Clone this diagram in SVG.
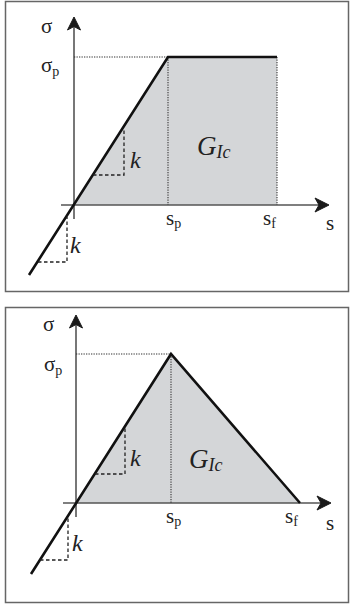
<svg xmlns="http://www.w3.org/2000/svg" width="352" height="608" viewBox="0 0 352 608">
<style>
.frame{fill:#fff;stroke:#666;stroke-width:1.5}
.area{fill:#d4d6d8;stroke:none}
.axis{stroke:#555;stroke-width:1.6;fill:none}
.head{fill:#1a1a1a;stroke:#1a1a1a;stroke-width:1;stroke-linejoin:miter}
.curve{stroke:#111;stroke-width:2.6;fill:none;stroke-linejoin:miter}
.dot{stroke:#333;stroke-width:1.1;stroke-dasharray:1.3 1.2;fill:none}
.dash{stroke:#222;stroke-width:1.3;stroke-dasharray:3.5 2.5;fill:none}
.lbl{font-family:"Liberation Serif",serif;font-size:21px;fill:#222}
.sub{font-size:14px}
.ital{font-family:"Liberation Serif",serif;font-style:italic;fill:#222}
</style>
<rect class="frame" x="5.5" y="1.5" width="343" height="290"/>
<rect class="frame" x="5.5" y="307.5" width="343" height="295"/>

<g id="panel1">
<polygon class="area" points="74,205 168,57 277,57 277,205"/>
<g id="connectors1">
<line class="axis" x1="61" y1="205" x2="322" y2="205"/>
<path class="head" d="M329,205 L315,198 L319,205 L315,212 Z"/>
<line class="axis" x1="74" y1="219" x2="74" y2="24"/>
<path class="head" d="M74,17 L67.5,30 L74,26.5 L80.5,30 Z"/>
<line class="dot" x1="74" y1="57" x2="168" y2="57"/>
<line class="dot" x1="168" y1="57" x2="168" y2="205"/>
<line class="dot" x1="277" y1="57" x2="277" y2="205"/>
<polyline class="curve" points="29,275 168,57 277,57"/>
<polyline class="dash" points="93,175 124,175 124,128"/>
<polyline class="dash" points="38,262 67,262 67,217"/>
</g>
<text class="lbl" x="41" y="33">σ</text>
<text class="lbl" x="41" y="72">σ<tspan class="sub" dy="4">p</tspan></text>
<text class="ital" x="130" y="168" font-size="24">k</text>
<text class="ital" x="70" y="253" font-size="24">k</text>
<text class="lbl" x="166" y="225">s<tspan class="sub" dy="3">p</tspan></text>
<text class="lbl" x="263" y="225">s<tspan class="sub" dy="3">f</tspan></text>
<text class="lbl" x="326" y="230">s</text>
<text class="ital" x="197" y="155" font-size="27">G<tspan font-size="18" dy="3">Ic</tspan></text>
</g>

<g id="panel2">
<polygon class="area" points="76,503 171,354 300,503"/>
<g id="connectors2">
<line class="axis" x1="63" y1="503" x2="324" y2="503"/>
<path class="head" d="M331,503 L317,496 L321,503 L317,510 Z"/>
<line class="axis" x1="76" y1="517" x2="76" y2="322"/>
<path class="head" d="M76,315 L69.5,328 L76,324.5 L82.5,328 Z"/>
<line class="dot" x1="76" y1="354" x2="171" y2="354"/>
<line class="dot" x1="171" y1="354" x2="171" y2="503"/>
<polyline class="curve" points="31,574 171,354 300,503"/>
<polyline class="dash" points="95,474 125,474 125,427"/>
<polyline class="dash" points="40,560 68,560 68,516"/>
</g>
<text class="lbl" x="43" y="331">σ</text>
<text class="lbl" x="44" y="371">σ<tspan class="sub" dy="4">p</tspan></text>
<text class="ital" x="130" y="466" font-size="24">k</text>
<text class="ital" x="72" y="551" font-size="24">k</text>
<text class="lbl" x="166" y="523">s<tspan class="sub" dy="3">p</tspan></text>
<text class="lbl" x="285" y="523">s<tspan class="sub" dy="3">f</tspan></text>
<text class="lbl" x="326" y="530">s</text>
<text class="ital" x="189" y="468" font-size="27">G<tspan font-size="18" dy="3">Ic</tspan></text>
</g>
</svg>
